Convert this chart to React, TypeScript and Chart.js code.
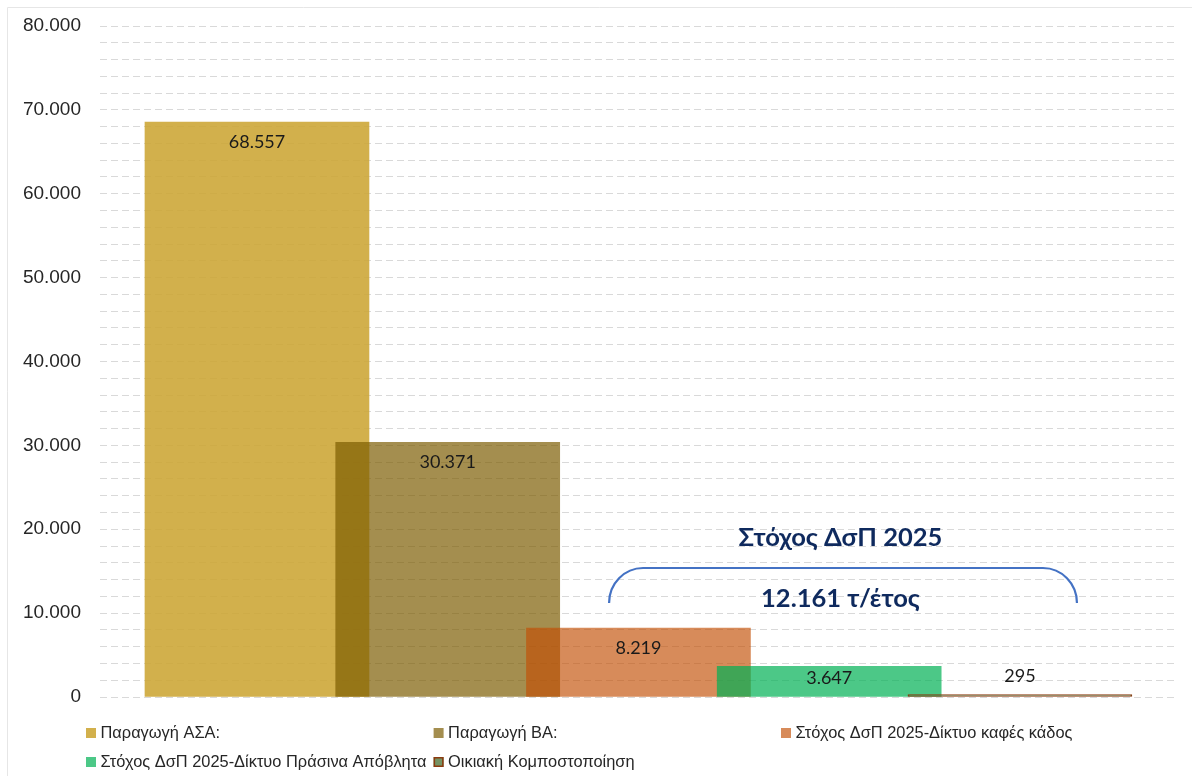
import React, { useEffect, useRef } from 'react';
import { Chart, registerables } from 'chart.js';

Chart.register(...registerables);

// ---- Data ----
const seriesNames: string[] = [
  'Παραγωγή ΑΣΑ:',
  'Παραγωγή ΒΑ:',
  'Στόχος ΔσΠ 2025-Δίκτυο καφές κάδος',
  'Στόχος ΔσΠ 2025-Δίκτυο Πράσινα Απόβλητα',
  'Οικιακή Κομποστοποίηση',
];
const seriesValues: number[] = [68557, 30371, 8219, 3647, 295];
const seriesColors: string[] = [
  'rgba(204,165,51,0.88)',
  'rgba(123,91,0,0.69)',
  'rgba(195,79,5,0.66)',
  'rgba(0,176,84,0.7)',
  'rgba(84,120,60,0.8)',
];
const seriesBorderColors: (string | null)[] = [null, null, null, null, '#8B3A0F'];
const yMax = 80000;
const yLabelStep = 10000;
const yGridStep = 2000;
const targetTitle = 'Στόχος ΔσΠ 2025';
const targetValue = 12161;
const targetUnit = 'τ/έτος';

const fmt = (v: number) =>
  Math.round(v).toString().replace(/\B(?=(\d{3})+(?!\d))/g, '.');

const TEXT_COLOR = '#262626';
const SANS = '"Liberation Sans", Arial, sans-serif';

const framePlugin = {
  id: 'frame',
  beforeDraw(chart: any) {
    const ctx = chart.ctx;
    ctx.save();
    ctx.fillStyle = '#ffffff';
    ctx.fillRect(0, 0, chart.width, chart.height);
    ctx.strokeStyle = '#e6e6e6';
    ctx.lineWidth = 1;
    ctx.beginPath();
    ctx.moveTo(7.5, chart.height);
    ctx.lineTo(7.5, 7.5);
    ctx.lineTo(chart.width, 7.5);
    ctx.stroke();
    ctx.restore();
  },
};

const labelsPlugin = {
  id: 'valueLabels',
  afterDatasetsDraw(chart: any) {
    const ctx = chart.ctx;
    ctx.save();
    ctx.font = '18px Lato, "Open Sans", sans-serif';
    ctx.fillStyle = '#1a1a1a';
    ctx.textAlign = 'center';
    ctx.textBaseline = 'middle';
    chart.data.datasets.forEach((_ds: any, i: number) => {
      const meta = chart.getDatasetMeta(i);
      const el = meta.data[0];
      if (!el) return;
      const top = el.y;
      const bottom = el.base;
      const h = bottom - top;
      let y: number;
      if (h >= 40) y = top + 20;
      else if (h >= 20) y = top + h / 2 - 3;
      else y = top - 18;
      ctx.fillText(fmt(seriesValues[i]), el.x, y);
    });

    // Target annotation (brace + texts)
    const xs = chart.scales.x;
    const ys = chart.scales.y;
    const left = xs.getPixelForValue(2.846);
    const right = xs.getPixelForValue(5.299);
    const bottomY = ys.getPixelForValue(11207);
    const topY = ys.getPixelForValue(15380);
    const rx = 34;
    const ry = bottomY - topY;
    ctx.strokeStyle = '#4472C4';
    ctx.lineWidth = 2.2;
    ctx.beginPath();
    ctx.ellipse(left + rx, bottomY, rx, ry, 0, Math.PI, Math.PI * 1.5);
    ctx.lineTo(right - rx, topY);
    ctx.ellipse(right - rx, bottomY, rx, ry, 0, Math.PI * 1.5, Math.PI * 2);
    ctx.stroke();

    const cx = xs.getPixelForValue(4.059);
    ctx.fillStyle = '#0F2A5E';
    ctx.font = 'bold 25.5px Lato, "Open Sans", sans-serif';
    ctx.fillText(targetTitle, cx, ys.getPixelForValue(18957));
    ctx.fillText(fmt(targetValue) + ' ' + targetUnit, cx, ys.getPixelForValue(11684));
    ctx.restore();
  },
};

const legendPlugin = {
  id: 'gridLegend',
  afterDraw(chart: any) {
    const ctx = chart.ctx;
    const colX = [86, 433.6, 781];
    const rowY = [733, 762];
    ctx.save();
    ctx.font = '16.4px ' + SANS;
    ctx.textAlign = 'left';
    ctx.textBaseline = 'middle';
    seriesNames.forEach((name, k) => {
      const x = colX[k % 3];
      const y = rowY[Math.floor(k / 3)];
      ctx.fillStyle = '#ffffff';
      ctx.fillRect(x, y - 5, 10, 10);
      ctx.fillStyle = seriesColors[k];
      ctx.fillRect(x, y - 5, 10, 10);
      const bc = seriesBorderColors[k];
      if (bc) {
        ctx.strokeStyle = bc;
        ctx.lineWidth = 1.5;
        ctx.strokeRect(x + 0.75, y - 4.25, 8.5, 8.5);
      }
      ctx.fillStyle = TEXT_COLOR;
      ctx.fillText(name, x + 14.5, y);
    });
    ctx.restore();
  },
};

export default function App() {
  const ref = useRef<HTMLCanvasElement>(null);

  useEffect(() => {
    const canvas = ref.current;
    if (!canvas) return;
    const datasets = seriesNames.map((name, i) => ({
      label: name,
      data: [{ x: i + 1, y: seriesValues[i] }],
      backgroundColor: seriesColors[i],
      borderColor: seriesBorderColors[i] || 'rgba(0,0,0,0)',
      borderWidth: seriesBorderColors[i] ? 1 : 0,
      borderSkipped: seriesBorderColors[i] ? false : 'start',
      barThickness: 224,
      grouped: false,
      order: seriesNames.length - i,
    }));
    const chart = new Chart(canvas, {
      type: 'bar',
      data: { datasets: datasets as any },
      options: {
        animation: false,
        responsive: true,
        maintainAspectRatio: false,
        layout: { padding: { left: 8, right: 17, top: 26, bottom: 79 } },
        plugins: {
          legend: { display: false },
          tooltip: { enabled: false },
        },
        scales: {
          x: {
            type: 'linear',
            display: false,
            offset: false,
            min: 0.177,
            max: 5.813,
          },
          y: {
            min: 0,
            max: yMax,
            afterFit: (scale: any) => {
              scale.width = 92;
              scale.paddingTop = 0;
              scale.paddingBottom = 0;
            },
            grid: {
              color: '#d9d9d9',
              lineWidth: 1,
              drawTicks: false,
            },
            border: { display: false, dash: [7, 4] },
            ticks: {
              stepSize: yGridStep,
              autoSkip: false,
              padding: 19,
              color: TEXT_COLOR,
              font: { family: SANS, size: 19 },
              callback: (v: any) => (Number(v) % yLabelStep === 0 ? fmt(Number(v)) : ''),
            },
          },
        },
      },
      plugins: [framePlugin, labelsPlugin, legendPlugin],
    });
    return () => chart.destroy();
  }, []);

  return (
    <div style={{ position: 'fixed', left: 0, top: 0, width: 1192, height: 776, background: '#fff' }}>
      <canvas ref={ref} />
    </div>
  );
}
